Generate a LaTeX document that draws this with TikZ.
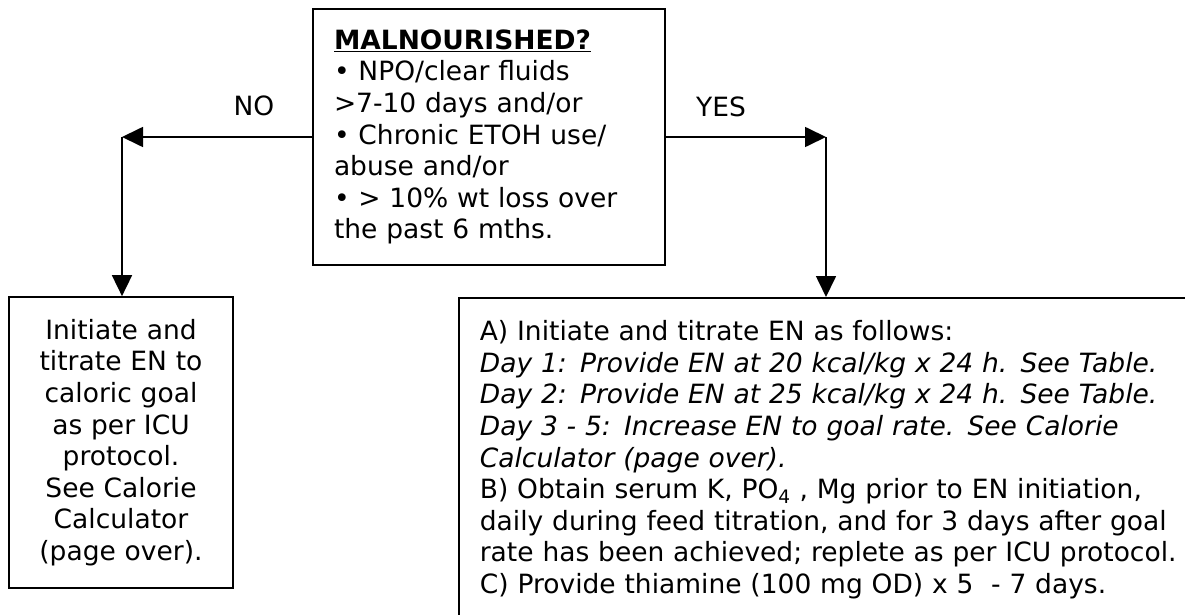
\documentclass[tikz,border=0pt]{standalone}
\usepackage{fontspec}
\setmainfont{DejaVu Sans}
\usetikzlibrary{arrows.meta, positioning}

\tikzset{
  box/.style={draw, line width=1.7pt, inner sep=0pt, font=\fontsize{26.5}{31.6}\selectfont},
  flow/.style={line width=1.7pt, -{Triangle[length=21pt, width=20pt]}},
  lbl/.style={font=\fontsize{26.5}{31.6}\selectfont},
}

\begin{document}
\begin{tikzpicture}[x=1pt, y=-1pt]
  \useasboundingbox (0,0) rectangle (1185,615);
  % question box
  \node[box, minimum width=352pt, minimum height=256pt, text width=310pt, align=left] (malnourished) at (489,137)
    {\underline{\textbf{MALNOURISHED?}}\\
     • NPO/clear fluids\\
     >7-10 days and/or\\
     • Chronic ETOH use/\\
     abuse and/or\\
     • > 10\% wt loss over\\
     the past 6 mths.};
  % answers
  \node[box, minimum width=224pt, minimum height=291pt, text width=210pt, align=center] (standard) at (121,442.5)
    {Initiate and\\ titrate EN to\\ caloric goal\\ as per ICU\\ protocol.\\ See Calorie\\ Calculator\\ (page over).};
  \node[box, anchor=north west, minimum width=760pt, minimum height=324pt, text width=718pt, align=left] (refeed) at (458,297)
    {A) Initiate and titrate EN as follows:\\
     \textit{Day 1: Provide EN at 20 kcal/kg x 24 h. See Table.}\\
     \textit{Day 2: Provide EN at 25 kcal/kg x 24 h. See Table.}\\
     \textit{Day 3 - 5: Increase EN to goal rate. See Calorie}\\
     \textit{Calculator (page over).}\\
     B) Obtain serum K, PO\textsubscript{4} , Mg prior to EN initiation,\\
     daily during feed titration, and for 3 days after goal\\
     rate has been achieved; replete as per ICU protocol.\\
     C) Provide thiamine (100 mg OD) x 5 \ - 7 days.};
  % branches
  \coordinate (noturn) at (122,137);
  \coordinate (yesturn) at (826,137);
  \draw[flow] (malnourished.west) -- (noturn);
  \draw[flow] (noturn) -- (noturn |- standard.north);
  \draw[flow] (malnourished.east) -- (yesturn);
  \draw[flow] (yesturn) -- (yesturn |- refeed.north);
  \node[lbl] (no) at (254,106) {NO};
  \node[lbl] (yes) at (721,107) {YES};
\end{tikzpicture}
\end{document}
